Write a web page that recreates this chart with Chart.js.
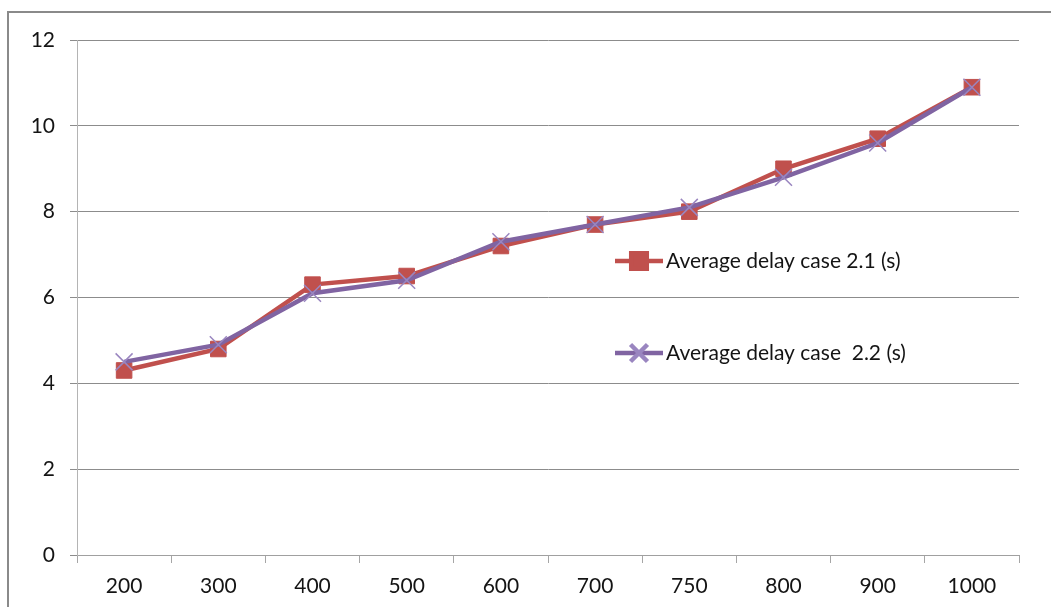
<!DOCTYPE html>
<html>
<head>
<meta charset="utf-8">
<script src="https://cdn.jsdelivr.net/npm/chart.js@4/dist/chart.umd.min.js"></script>
<style>
  html, body { margin: 0; padding: 0; background: #ffffff; }
  #wrap { position: relative; width: 1051px; height: 607px; }
</style>
</head>
<body>
<div id="wrap"><canvas id="chart" width="1051" height="607"></canvas></div>
<script>
// Load sizes on the x axis
const categories = ['200', '300', '400', '500', '600', '700', '750', '800', '900', '1000'];

// Average delay in seconds for each case
const delayCase21 = [4.3, 4.8, 6.3, 6.5, 7.2, 7.7, 8.0, 9.0, 9.7, 10.9];
const delayCase22 = [4.5, 4.9, 6.1, 6.4, 7.3, 7.7, 8.1, 8.8, 9.6, 10.9];

const seriesNames = ['Average delay case 2.1 (s)', 'Average delay case  2.2 (s)'];

// y-axis range and step
const yMin = 0;
const yMax = 12;
const yStep = 2;

const FONT = 'Lato, "Open Sans", sans-serif';
const TEXT = '#141414';
const RED = '#C0504D';
const PURPLE = '#8064A2';
const PURPLE_MARK = '#9A86C0';

// Outer frame and white background
const framePlugin = {
  id: 'frame',
  beforeDraw(chart) {
    const ctx = chart.ctx;
    ctx.save();
    ctx.fillStyle = '#ffffff';
    ctx.fillRect(0, 0, chart.width, chart.height);
    ctx.strokeStyle = '#8a8a8a';
    ctx.lineWidth = 2;
    ctx.beginPath();
    ctx.moveTo(8, chart.height + 5);
    ctx.lineTo(8, 12);
    ctx.lineTo(chart.width + 5, 12);
    ctx.stroke();
    ctx.restore();
  }
};

// Legend drawn inside the plot area, one entry per row
const legendPlugin = {
  id: 'insideLegend',
  afterDraw(chart) {
    const ctx = chart.ctx;
    const rows = [261, 353];
    const x0 = 615, x1 = 663;
    chart.data.datasets.forEach((ds, i) => {
      const y = rows[i];
      ctx.save();
      ctx.strokeStyle = ds.borderColor;
      ctx.lineWidth = ds.borderWidth;
      ctx.beginPath();
      ctx.moveTo(x0, y);
      ctx.lineTo(x1, y);
      ctx.stroke();
      ctx.fillStyle = ds.pointBackgroundColor;
      ctx.strokeStyle = ds.pointBorderColor;
      Chart.helpers.drawPoint(ctx, {
        pointStyle: ds.pointStyle,
        radius: ds.pointRadius,
        rotation: 0,
        borderWidth: ds.pointBorderWidth
      }, (x0 + x1) / 2, y);
      ctx.fillStyle = TEXT;
      ctx.font = '21px ' + FONT;
      ctx.textAlign = 'left';
      ctx.textBaseline = 'middle';
      ctx.fillText(ds.label, x1 + 3, y);
      ctx.restore();
    });
  }
};

new Chart(document.getElementById('chart'), {
  type: 'line',
  data: {
    labels: categories,
    datasets: [
      {
        label: seriesNames[0],
        data: delayCase21,
        borderColor: RED,
        borderWidth: 4.5,
        pointStyle: 'rect',
        pointRadius: 11,
        pointBackgroundColor: RED,
        pointBorderColor: RED,
        pointBorderWidth: 1,
        tension: 0,
        order: 1
      },
      {
        label: seriesNames[1],
        data: delayCase22,
        borderColor: PURPLE,
        borderWidth: 4.5,
        pointStyle: 'crossRot',
        pointRadius: 12,
        pointBackgroundColor: PURPLE_MARK,
        pointBorderColor: PURPLE_MARK,
        pointBorderWidth: 1.5,
        tension: 0,
        order: 0
      }
    ]
  },
  options: {
    responsive: false,
    animation: false,
    events: [],
    layout: { padding: { left: 0, top: 40, right: 32, bottom: 0 } },
    plugins: {
      legend: { display: false },
      tooltip: { enabled: false }
    },
    scales: {
      x: {
        type: 'category',
        offset: true,
        afterFit(scale) { scale.height = 52; },
        grid: {
          offset: true,
          drawOnChartArea: false,
          drawTicks: true,
          tickLength: 8,
          color: '#a6a6a6',
          lineWidth: 1
        },
        border: { display: true, color: '#a0a0a0', width: 1 },
        ticks: {
          color: TEXT,
          font: { family: FONT, size: 21 },
          padding: 11,
          maxRotation: 0,
          autoSkip: false
        }
      },
      y: {
        min: yMin,
        max: yMax,
        afterFit(scale) { scale.width = 77; },
        grid: {
          color: '#8c8c8c',
          lineWidth: 1,
          drawTicks: true,
          tickLength: 7
        },
        border: { display: true, color: '#b4b4b4', width: 1 },
        ticks: {
          stepSize: yStep,
          color: TEXT,
          font: { family: FONT, size: 21 },
          padding: 15
        }
      }
    }
  },
  plugins: [framePlugin, legendPlugin]
});
</script>
</body>
</html>
